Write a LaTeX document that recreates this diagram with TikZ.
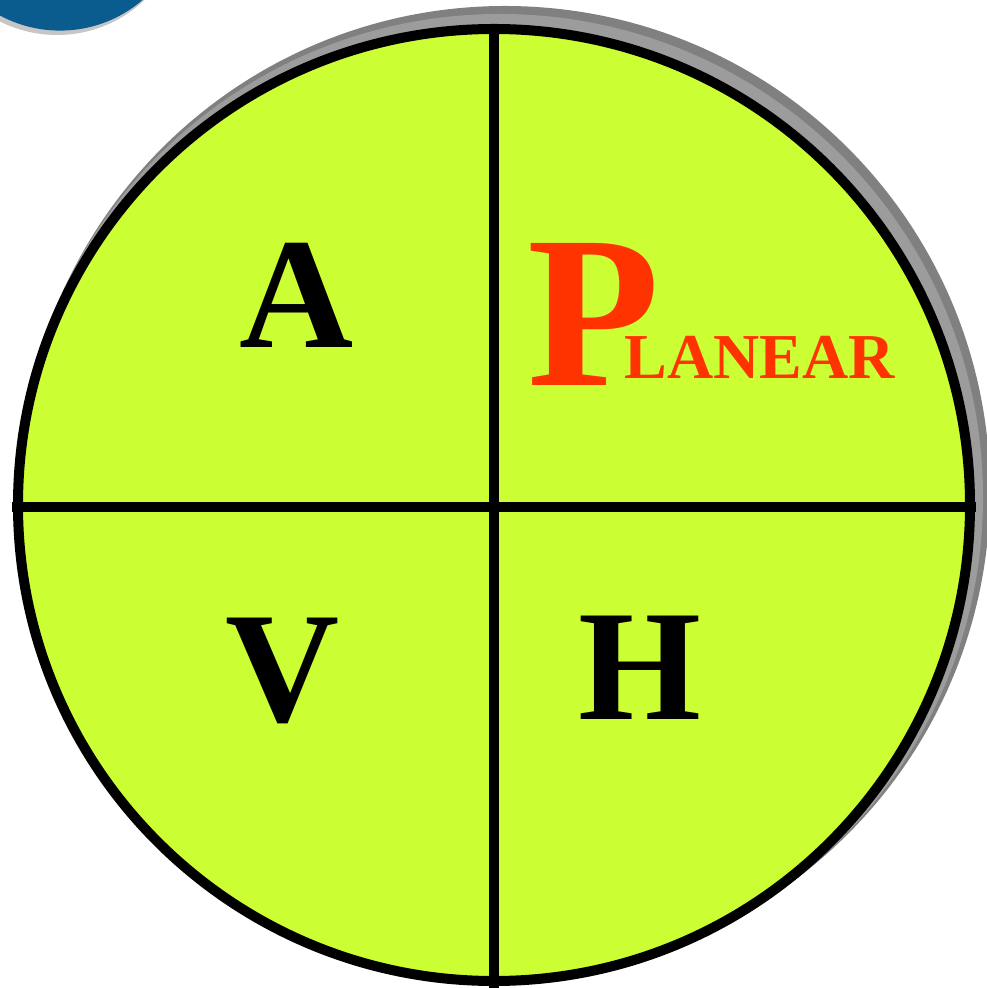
\documentclass[tikz,border=0pt]{standalone}
\usepackage{fontspec}
\setmainfont{Liberation Serif}
\definecolor{lime}{HTML}{CCFF33}
\definecolor{planred}{HTML}{FF3300}
\definecolor{dotblue}{HTML}{0A5B8E}
\definecolor{shadowdark}{HTML}{808080}
\definecolor{shadowlight}{HTML}{9C9C9C}
\begin{document}
\begin{tikzpicture}[x=1pt,y=1pt,
  bigletter/.style={font=\fontsize{158}{158}\selectfont\bfseries, text=black, inner sep=0pt, anchor=base},
  divider/.style={line width=10pt, black}]
\useasboundingbox (0,0) rectangle (987,988);
\clip (0,0) rectangle (987,988);
% top-left blue disc with shadow
\fill[gray!45] (57,1080) circle (127);
\fill[dotblue] (60,1084) circle (126.6);
% shadow of main disc
\fill[shadowdark] (505,497) circle (485);
\fill[shadowlight] (500,491) circle (483);
% main disc
\coordinate (c) at (494,483);
\fill[lime] (c) circle (476);
\coordinate (top) at (494,964);
\coordinate (bot) at (494,0);
\coordinate (lft) at (12,481);
\coordinate (rgt) at (976,481);
\draw[divider] (top) -- (bot);
\draw[divider] (lft) -- (rgt);
\draw[line width=10pt] (c) circle (476);
% letters
\node[bigletter] (A) at (297,640) {A};
\node[bigletter] (V) at (283,266) {V};
\node[bigletter] (H) at (640,268) {H};
\node[text=planred, inner sep=0pt, anchor=base west] (planar) at (527,602)
  {{\fontsize{217}{217}\selectfont\bfseries P}\kern-35pt\raisebox{7pt}{\fontsize{64}{64}\selectfont\bfseries LANEAR}};
\end{tikzpicture}
\end{document}
